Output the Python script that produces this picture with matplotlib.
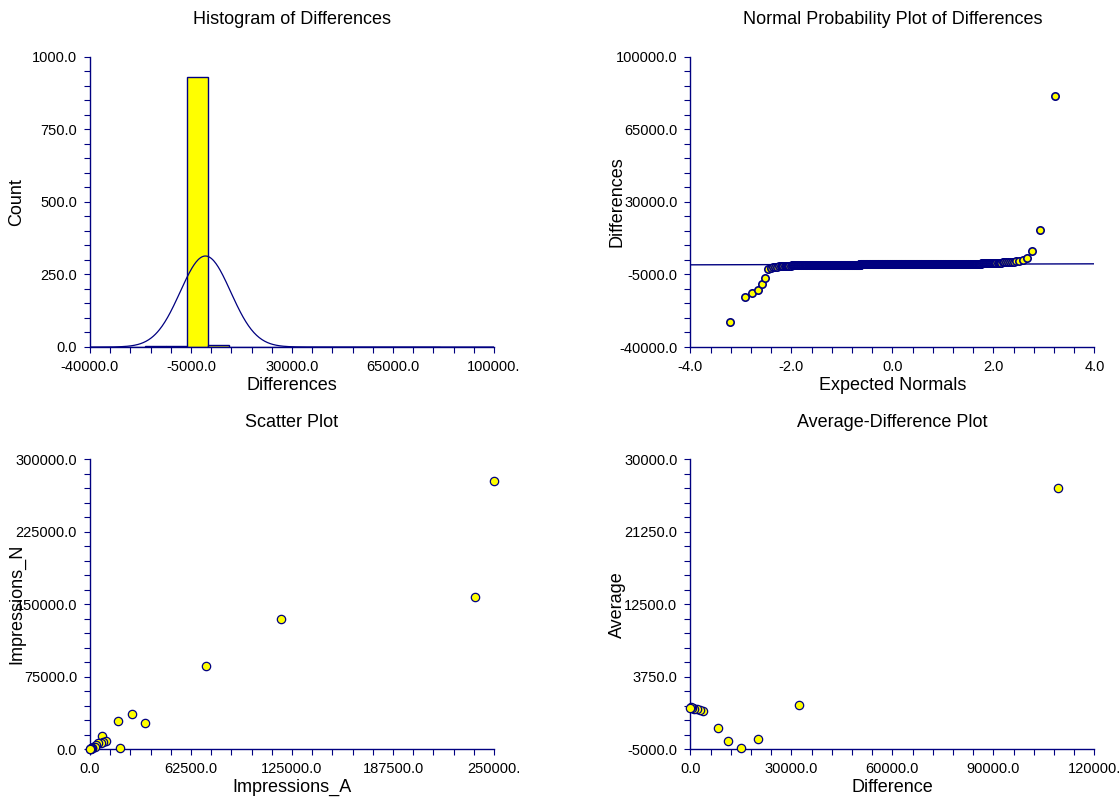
import numpy as np
import matplotlib
matplotlib.use('Agg')
import matplotlib.pyplot as plt
from matplotlib.ticker import FixedLocator, FixedFormatter
from statistics import NormalDist

plt.rcParams['font.family'] = ['Liberation Sans', 'DejaVu Sans']

NAVY = '#000080'
YELLOW = '#ffff00'

# ---------------- data ----------------
# Differences (sorted): individually read tail values, bulk given as value levels with counts
diff_low_tail = [-28100, -15700, -14100, -12500, -9800, -6700, -2200, -1750]
diff_bulk_levels = [-1300, -1000, -800, -600, -400, -300, -200, -100, 0, 100, 300, 500, 800]
diff_bulk_counts = [3, 4, 6, 15, 60, 150, 250, 250, 121, 40, 15, 8, 6]
diff_high_tail = [1150, 1300, 1630, 1950, 2750, 6450, 16600, 81150]

hist_bins = 15
norm_fit_mean = 0.0
norm_fit_sd = 8750.0
ref_line_intercept = -130.0
ref_line_slope = 60.0

impressions_a = [250000, 238270, 118490, 71950, 26200, 33830, 17530, 18560, 7240,
                 9900, 8250, 6600, 5160, 3710, 2060, 3090, 1030, 1500, 800, 500, 200, 0]
impressions_n = [277900, 157230, 134470, 85860, 36200, 27520, 29590, 1650, 14070,
                 8900, 7900, 6860, 6200, 4450, 2720, 2070, 1000, 1200, 900, 400, 300, 0]

avgdiff_difference = [109180, 32340, 20200, 14950, 11290, 8100, 3650, 2850,
                      1860, 870, 1200, 600, 300, 0]
avgdiff_average = [26540, 383, -3757, -4879, -3962, -2393, -377, -257,
                   -130, -51, -80, 0, 50, 21]

hist_xticklabels = ['-40000.0', '-5000.0', '30000.0', '65000.0', '100000.']
hist_yticklabels = ['0.0', '250.0', '500.0', '750.0', '1000.0']
npp_xticklabels = ['-4.0', '-2.0', '0.0', '2.0', '4.0']
npp_yticklabels = ['-40000.0', '-5000.0', '30000.0', '65000.0', '100000.0']
sc_xticklabels = ['0.0', '62500.0', '125000.0', '187500.0', '250000.']
sc_yticklabels = ['0.0', '75000.0', '150000.0', '225000.0', '300000.0']
ad_xticklabels = ['0.0', '30000.0', '60000.0', '90000.0', '120000.']
ad_yticklabels = ['-5000.0', '3750.0', '12500.0', '21250.0', '30000.0']

# ---------------- figure ----------------
W, H = 1120, 797
fig = plt.figure(figsize=(W / 100, H / 100), dpi=100)

def axes_px(left, top, right, bottom):
    return fig.add_axes([left / W, (H - bottom) / H, (right - left) / W, (bottom - top) / H])

ax1 = axes_px(90, 56.7, 494, 347)
ax2 = axes_px(690.4, 56.7, 1094.4, 347)
ax3 = axes_px(90, 459.3, 494, 749.3)
ax4 = axes_px(690.4, 459.3, 1094.4, 749.3)

LABEL_FS = 13
TITLE_FS = 13
TICK_FS = 10.5

def style(ax, xlabels, ylabels, title, xlabel, ylabel):
    xt = [float(s) for s in xlabels]
    yt = [float(s) for s in ylabels]
    ax.set_xlim(xt[0], xt[-1])
    ax.set_ylim(yt[0], yt[-1])
    for s in ['top', 'right']:
        ax.spines[s].set_visible(False)
    for s in ['left', 'bottom']:
        ax.spines[s].set_color(NAVY)
        ax.spines[s].set_linewidth(1.0)
    ax.xaxis.set_major_locator(FixedLocator(xt))
    ax.xaxis.set_major_formatter(FixedFormatter(xlabels))
    ax.yaxis.set_major_locator(FixedLocator(yt))
    ax.yaxis.set_major_formatter(FixedFormatter(ylabels))
    xstep = (xt[1] - xt[0]) / 5
    ystep = (yt[1] - yt[0]) / 5
    ax.xaxis.set_minor_locator(FixedLocator(np.arange(xt[0], xt[-1] + xstep / 2, xstep)))
    ax.yaxis.set_minor_locator(FixedLocator(np.arange(yt[0], yt[-1] + ystep / 2, ystep)))
    ax.tick_params(which='both', direction='out', length=4.3, width=0.8, color=NAVY,
                   labelsize=TICK_FS, labelcolor='black', pad=5)
    ax.tick_params(which='minor', labelbottom=False, labelleft=False)
    bb = ax.get_position()
    wpx = bb.width * W
    hpx = bb.height * H
    ax.text(0.5, 1 + 37 / hpx, title, transform=ax.transAxes, ha='center', va='center',
            fontsize=TITLE_FS)
    ax.text(0.5, -38 / hpx, xlabel, transform=ax.transAxes, ha='center', va='center',
            fontsize=LABEL_FS)
    ax.text(-73 / wpx, 0.5, ylabel, transform=ax.transAxes, ha='center', va='center',
            rotation=90, fontsize=LABEL_FS)

# assemble differences
diffs = np.sort(np.concatenate([
    np.array(diff_low_tail, float),
    np.repeat(np.array(diff_bulk_levels, float), diff_bulk_counts),
    np.array(diff_high_tail, float),
]))
n = len(diffs)

# ---- Histogram ----
counts, edges, patches = ax1.hist(diffs, bins=hist_bins, color=YELLOW, edgecolor=NAVY,
                                  linewidth=1.0, zorder=2)
bw = edges[1] - edges[0]
xc = np.linspace(-40000, 100000, 600)
nd = NormalDist(norm_fit_mean, norm_fit_sd)
yc = np.array([nd.pdf(v) for v in xc]) * n * bw
ax1.plot(xc, yc, color=NAVY, linewidth=0.9, zorder=3)
style(ax1, hist_xticklabels, hist_yticklabels, 'Histogram of Differences', 'Differences', 'Count')

# ---- Normal probability plot ----
std = NormalDist()
expected = np.array([std.inv_cdf((i - 0.375) / (n + 0.25)) for i in range(1, n + 1)])
xl = np.array([-4.0, 4.0])
ax2.plot(xl, ref_line_intercept + ref_line_slope * xl, color=NAVY, linewidth=1.0, zorder=2)
ax2.scatter(expected, diffs, s=28, facecolor=YELLOW, edgecolor=NAVY, linewidth=1.2,
            zorder=3, clip_on=False)
style(ax2, npp_xticklabels, npp_yticklabels, 'Normal Probability Plot of Differences',
      'Expected Normals', 'Differences')

# ---- Scatter plot ----
ax3.scatter(impressions_a, impressions_n, s=36, facecolor=YELLOW, edgecolor=NAVY,
            linewidth=0.9, zorder=3, clip_on=False)
style(ax3, sc_xticklabels, sc_yticklabels, 'Scatter Plot', 'Impressions_A', 'Impressions_N')

# ---- Average-Difference plot ----
ax4.scatter(avgdiff_difference, avgdiff_average, s=36, facecolor=YELLOW, edgecolor=NAVY,
            linewidth=0.9, zorder=3, clip_on=False)
style(ax4, ad_xticklabels, ad_yticklabels, 'Average-Difference Plot', 'Difference', 'Average')

fig.savefig('out.png', dpi=100)
